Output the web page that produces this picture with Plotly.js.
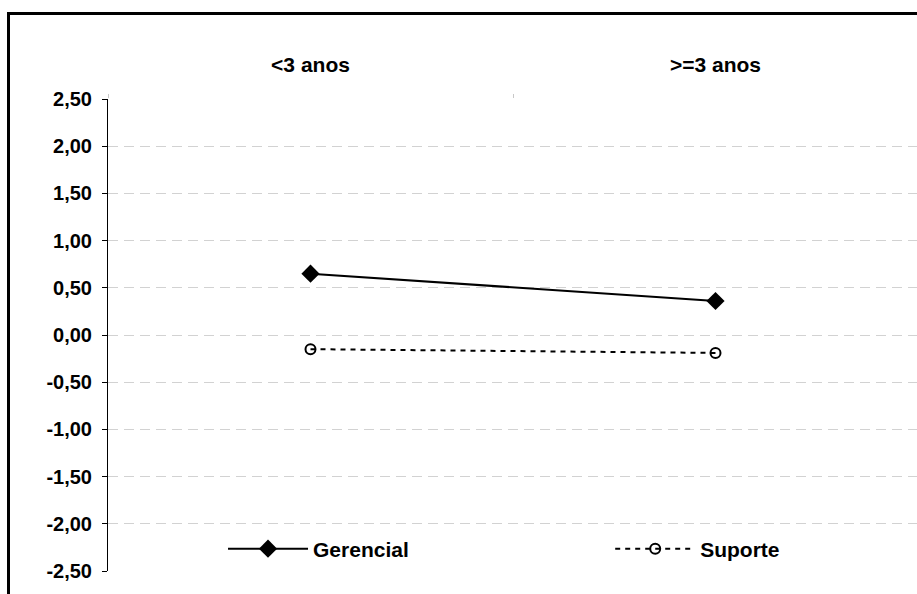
<!DOCTYPE html>
<html><head><meta charset="utf-8">
<script src="https://cdn.plot.ly/plotly-3.0.1.min.js"></script>
<style>
html,body{margin:0;padding:0;overflow:hidden;background:#fff;width:917px;height:594px;}
#chart{position:absolute;left:0;top:0;width:930px;height:600px;}
#frame{position:absolute;left:7px;top:12px;width:940px;height:620px;border-top:3px solid #000;border-left:3px solid #000;pointer-events:none;}
</style></head>
<body>
<div id="chart"></div>
<div id="frame"></div>
<script>
const categories = ['<3 anos', '>=3 anos'];
const gerencial = [0.65, 0.36];
const suporte = [-0.15, -0.19];
const seriesNames = ['Gerencial', 'Suporte'];
const yTickValues = [-2.5, -2, -1.5, -1, -0.5, 0, 0.5, 1, 1.5, 2, 2.5];
const yTickLabels = yTickValues.map(v => v.toFixed(2).replace('.', ','));

const fontFam = 'Arial, "Liberation Sans", sans-serif';

const traces = [
  {x: categories, y: gerencial, name: seriesNames[0], type: 'scatter', mode: 'lines+markers',
   legend: 'legend',
   line: {color: '#000', width: 2},
   marker: {symbol: 'diamond', size: 14, color: '#000'}},
  {x: categories, y: suporte, name: seriesNames[1], type: 'scatter', mode: 'lines+markers',
   legend: 'legend2',
   line: {color: '#000', width: 2, dash: '5px,5px'},
   marker: {symbol: 'circle-open', size: 10, color: '#000', line: {width: 2, color: '#000'}}}
];

const legFont = {family: fontFam, size: 21, weight: 'bold', color: '#000'};

const layout = {
  width: 930, height: 600,
  margin: {l: 108, r: 12, t: 99, b: 29},
  paper_bgcolor: '#fff', plot_bgcolor: '#fff',
  font: {family: fontFam, color: '#000', size: 16},
  showlegend: true,
  legend: {orientation: 'h', x: 0.142, y: 0.0466, xanchor: 'left', yanchor: 'middle', itemwidth: 80,
           font: legFont, bgcolor: 'rgba(0,0,0,0)'},
  legend2: {orientation: 'h', x: 0.62, y: 0.0466, xanchor: 'left', yanchor: 'middle', itemwidth: 80,
           font: legFont, bgcolor: 'rgba(0,0,0,0)'},
  xaxis: {type: 'category', side: 'top', showgrid: false, zeroline: false, showline: false,
          range: [-0.5, 1.5],
          tickson: 'boundaries', ticks: 'outside', ticklen: 4, tickcolor: '#c8c8c8',
          ticklabelstandoff: 22,
          tickfont: {family: fontFam, size: 21, weight: 'bold', color: '#000'},
          fixedrange: true},
  yaxis: {range: [-2.5, 2.5], tickmode: 'array', tickvals: yTickValues, ticktext: yTickLabels,
          showgrid: true, gridcolor: '#d2d2d2', griddash: '10px,6px', gridwidth: 1,
          zeroline: false, showline: true, linecolor: '#000', linewidth: 1,
          ticks: 'outside', ticklen: 5, tickcolor: '#000',
          ticklabelstandoff: 6,
          tickfont: {family: fontFam, size: 20, weight: 'bold', color: '#000'},
          fixedrange: true}
};

Plotly.newPlot('chart', traces, layout, {displayModeBar: false, staticPlot: true});
</script>
</body></html>
